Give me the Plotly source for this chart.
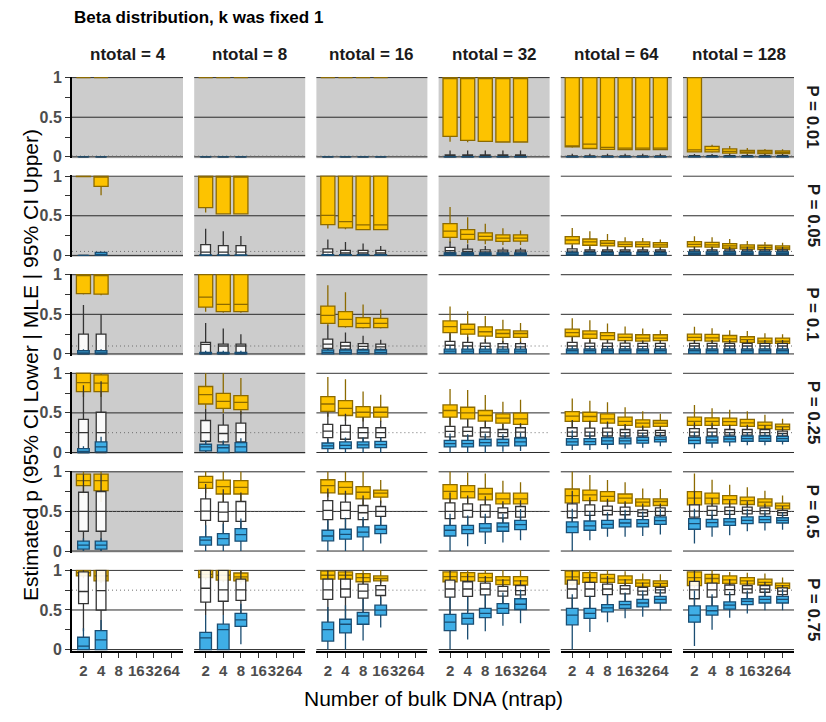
import plotly.graph_objects as go

# Facet levels
P_VALUES = [0.01, 0.05, 0.1, 0.25, 0.5, 0.75]
P_LABELS = ["P = 0.01", "P = 0.05", "P = 0.1", "P = 0.25", "P = 0.5", "P = 0.75"]
NTOTAL = [4, 8, 16, 32, 64, 128]
NTRAP_LABELS = ["2", "4", "8", "16", "32", "64"]

# Panels drawn with a grey background, keyed by P
SHADED_NTOTAL = {
    0.01: [4, 8, 16, 32, 64, 128],
    0.05: [4, 8, 16, 32],
    0.1: [4, 8, 16],
    0.25: [4, 8],
    0.5: [4],
    0.75: [],
}

# Box statistics per ntrap: (lower whisker, q1, median, q3, upper whisker)
# ---- P = 0.01 ----
UPPER_P001 = {
    4: [(1, 1, 1, 1, 1), (1, 1, 1, 1, 1)],
    8: [(1, 1, 1, 1, 1)] * 3,
    16: [(1, 1, 1, 1, 1)] * 4,
    32: [(0.19, 0.257, 1, 1, 1), (0.185, 0.207, 1, 1, 1), (0.19, 0.195, 1, 1, 1),
         (0.185, 0.187, 1, 1, 1), (0.185, 0.187, 1, 1, 1)],
    64: [(0.115, 0.125, 0.13, 1, 1), (0.1, 0.105, 0.16, 1, 1), (0.09, 0.095, 0.12, 1, 1),
         (0.085, 0.09, 0.11, 1, 1), (0.085, 0.09, 0.11, 1, 1), (0.085, 0.09, 0.11, 1, 1)],
    128: [(0.055, 0.062, 0.087, 1, 1), (0.05, 0.062, 0.09, 0.133, 0.153),
          (0.035, 0.046, 0.07, 0.1, 0.137), (0.035, 0.046, 0.06, 0.08, 0.11),
          (0.03, 0.04, 0.06, 0.08, 0.1), (0.03, 0.04, 0.055, 0.075, 0.095)],
}
MLE_P001 = {
    4: [(0, 0, 0, 0, 0)] * 2,
    8: [(0, 0, 0, 0, 0)] * 3,
    16: [(0, 0, 0, 0, 0)] * 4,
    32: [(0, 0, 0.01, 0.025, 0.08)] * 5,
    64: [(0, 0, 0.005, 0.012, 0.04)] * 6,
    128: [(0, 0.002, 0.008, 0.015, 0.035)] * 6,
}
LOWER_P001 = {
    4: [(0, 0, 0, 0, 0)] * 2,
    8: [(0, 0, 0, 0, 0)] * 3,
    16: [(0, 0, 0, 0, 0)] * 4,
    32: [(0, 0, 0, 0.002, 0.005)] * 5,
    64: [(0, 0, 0, 0.003, 0.008)] * 6,
    128: [(0, 0, 0, 0.004, 0.01)] * 6,
}

# ---- P = 0.05 ----
UPPER_P005 = {
    4: [(0.99, 0.995, 1, 1, 1), (0.76, 0.872, 1, 1, 1)],
    8: [(0.54, 0.603, 1, 1, 1), (0.52, 0.525, 1, 1, 1), (0.52, 0.525, 1, 1, 1)],
    16: [(0.339, 0.388, 0.504, 1, 1), (0.33, 0.347, 0.426, 1, 1),
         (0.32, 0.326, 0.384, 1, 1), (0.32, 0.326, 0.384, 1, 1)],
    32: [(0.16, 0.227, 0.306, 0.40, 0.61), (0.15, 0.202, 0.264, 0.326, 0.48),
         (0.14, 0.194, 0.24, 0.285, 0.40), (0.13, 0.178, 0.219, 0.26, 0.343),
         (0.13, 0.18, 0.219, 0.26, 0.314)],
    64: [(0.095, 0.145, 0.194, 0.236, 0.347), (0.085, 0.128, 0.17, 0.207, 0.306),
         (0.08, 0.12, 0.153, 0.186, 0.27), (0.075, 0.11, 0.14, 0.17, 0.23),
         (0.072, 0.107, 0.14, 0.17, 0.22), (0.07, 0.103, 0.132, 0.16, 0.2)],
    128: [(0.07, 0.107, 0.14, 0.174, 0.24), (0.065, 0.103, 0.132, 0.165, 0.23),
          (0.058, 0.09, 0.12, 0.149, 0.207), (0.05, 0.078, 0.105, 0.132, 0.18),
          (0.048, 0.074, 0.1, 0.128, 0.17), (0.048, 0.074, 0.095, 0.12, 0.16)],
}
MLE_P005 = {
    4: [(0, 0, 0, 0, 0), (0, 0, 0, 0.02, 0.04)],
    8: [(0, 0, 0.04, 0.136, 0.335), (0, 0, 0.04, 0.124, 0.306), (0, 0, 0.04, 0.124, 0.244)],
    16: [(0, 0, 0.04, 0.083, 0.2), (0, 0, 0.03, 0.062, 0.17),
         (0, 0, 0.03, 0.062, 0.149), (0, 0, 0.03, 0.062, 0.12)],
    32: [(0, 0.037, 0.06, 0.1, 0.174), (0, 0.03, 0.05, 0.078, 0.14),
         (0, 0.025, 0.045, 0.07, 0.12), (0, 0.02, 0.045, 0.066, 0.1),
         (0, 0.02, 0.045, 0.066, 0.095)],
    64: [(0.005, 0.03, 0.055, 0.083, 0.128), (0.005, 0.03, 0.05, 0.07, 0.11),
         (0.005, 0.03, 0.05, 0.07, 0.107), (0.008, 0.03, 0.05, 0.07, 0.105),
         (0.008, 0.03, 0.05, 0.07, 0.105), (0.01, 0.03, 0.05, 0.07, 0.1)],
    128: [(0.01, 0.03, 0.05, 0.07, 0.11)] * 6,
}
LOWER_P005 = {
    4: [(0, 0, 0, 0, 0), (0, 0, 0.01, 0.037, 0.05)],
    8: [(0, 0, 0, 0.005, 0.01)] * 3,
    16: [(0, 0, 0, 0.008, 0.02)] * 4,
    32: [(0, 0, 0.01, 0.03, 0.05)] * 5,
    64: [(0, 0.005, 0.02, 0.037, 0.06)] * 6,
    128: [(0, 0.01, 0.025, 0.045, 0.07)] * 6,
}

# ---- P = 0.1 ----
UPPER_P01 = {
    4: [(0.75, 0.762, 1, 1, 1), (0.74, 0.754, 1, 1, 1)],
    8: [(0.533, 0.592, 0.717, 1, 1), (0.52, 0.533, 0.625, 1, 1), (0.52, 0.533, 0.625, 1, 1)],
    16: [(0.354, 0.387, 0.487, 0.604, 0.867), (0.33, 0.346, 0.437, 0.533, 0.78),
         (0.32, 0.333, 0.387, 0.458, 0.625), (0.32, 0.333, 0.387, 0.45, 0.56)],
    32: [(0.167, 0.27, 0.346, 0.417, 0.6), (0.16, 0.25, 0.31, 0.375, 0.54),
         (0.15, 0.225, 0.28, 0.342, 0.48), (0.14, 0.208, 0.258, 0.304, 0.433),
         (0.14, 0.208, 0.258, 0.29, 0.39)],
    64: [(0.167, 0.22, 0.27, 0.312, 0.45), (0.14, 0.196, 0.25, 0.29, 0.425),
         (0.13, 0.18, 0.23, 0.27, 0.383), (0.12, 0.167, 0.208, 0.25, 0.346),
         (0.12, 0.162, 0.2, 0.242, 0.32), (0.125, 0.167, 0.2, 0.242, 0.3)],
    128: [(0.133, 0.167, 0.208, 0.25, 0.342), (0.12, 0.162, 0.204, 0.246, 0.325),
          (0.115, 0.154, 0.19, 0.233, 0.3), (0.11, 0.146, 0.18, 0.217, 0.29),
          (0.1, 0.133, 0.163, 0.2, 0.26), (0.1, 0.133, 0.16, 0.2, 0.25)],
}
MLE_P01 = {
    4: [(0, 0, 0.01, 0.25, 0.617), (0, 0, 0.01, 0.25, 0.5)],
    8: [(0, 0, 0.12, 0.146, 0.39), (0, 0, 0.1, 0.125, 0.32), (0, 0, 0.1, 0.125, 0.25)],
    16: [(0, 0.07, 0.125, 0.187, 0.36), (0, 0.062, 0.1, 0.146, 0.27),
         (0, 0.058, 0.095, 0.13, 0.23), (0, 0.058, 0.09, 0.125, 0.18)],
    32: [(0, 0.05, 0.11, 0.158, 0.26), (0, 0.054, 0.1, 0.146, 0.217),
         (0, 0.054, 0.095, 0.137, 0.19), (0.01, 0.054, 0.09, 0.13, 0.167),
         (0.01, 0.054, 0.09, 0.13, 0.154)],
    64: [(0.01, 0.062, 0.1, 0.146, 0.21), (0.02, 0.062, 0.095, 0.137, 0.18),
         (0.02, 0.062, 0.095, 0.137, 0.175), (0.02, 0.062, 0.095, 0.137, 0.175),
         (0.02, 0.062, 0.095, 0.133, 0.17), (0.02, 0.062, 0.095, 0.133, 0.17)],
    128: [(0.02, 0.062, 0.1, 0.133, 0.175)] * 6,
}
LOWER_P01 = {
    4: [(0, 0, 0.01, 0.04, 0.06)] * 2,
    8: [(0, 0, 0.005, 0.02, 0.04)] * 3,
    16: [(0, 0, 0.02, 0.05, 0.07)] * 4,
    32: [(0, 0.008, 0.035, 0.062, 0.104)] * 5,
    64: [(0, 0.008, 0.04, 0.062, 0.1)] * 6,
    128: [(0, 0.008, 0.04, 0.062, 0.1)] * 6,
}

# ---- P = 0.25 ----
UPPER_P025 = {
    4: [(0.7, 0.767, 0.883, 1, 1), (0.7, 0.767, 0.875, 0.98, 1)],
    8: [(0.55, 0.612, 0.73, 0.833, 1), (0.5, 0.558, 0.646, 0.746, 1),
        (0.48, 0.542, 0.633, 0.717, 0.94)],
    16: [(0.45, 0.52, 0.612, 0.704, 0.954), (0.4, 0.467, 0.558, 0.654, 0.925),
         (0.39, 0.446, 0.508, 0.58, 0.77), (0.39, 0.446, 0.508, 0.571, 0.73)],
    32: [(0.34, 0.446, 0.53, 0.6, 0.8), (0.32, 0.425, 0.5, 0.571, 0.79),
         (0.3, 0.396, 0.467, 0.53, 0.725), (0.28, 0.37, 0.433, 0.487, 0.64),
         (0.27, 0.354, 0.425, 0.496, 0.667)],
    64: [(0.31, 0.392, 0.458, 0.517, 0.683), (0.3, 0.392, 0.454, 0.508, 0.654),
         (0.29, 0.37, 0.425, 0.487, 0.633), (0.27, 0.342, 0.392, 0.446, 0.57),
         (0.26, 0.32, 0.37, 0.4125, 0.52), (0.27, 0.33, 0.37, 0.404, 0.49)],
    128: [(0.29, 0.342, 0.392, 0.446, 0.6), (0.28, 0.342, 0.392, 0.4375, 0.558),
          (0.28, 0.342, 0.39, 0.433, 0.54), (0.27, 0.33, 0.375, 0.417, 0.52),
          (0.24, 0.3, 0.342, 0.383, 0.475), (0.24, 0.2875, 0.325, 0.358, 0.425)],
}
MLE_P025 = {
    4: [(0, 0, 0.25, 0.417, 0.85), (0, 0, 0.25, 0.508, 0.9)],
    8: [(0, 0.142, 0.25, 0.404, 0.55), (0, 0.133, 0.24, 0.346, 0.49),
        (0, 0.133, 0.25, 0.37, 0.52)],
    16: [(0.05, 0.1875, 0.27, 0.354, 0.508), (0.04, 0.167, 0.258, 0.342, 0.49),
         (0.07, 0.183, 0.25, 0.312, 0.446), (0.08, 0.1875, 0.25, 0.312, 0.4)],
    32: [(0.083, 0.196, 0.267, 0.33, 0.446), (0.09, 0.208, 0.267, 0.32, 0.42),
         (0.09, 0.196, 0.258, 0.3125, 0.4), (0.1, 0.2, 0.25, 0.29, 0.36),
         (0.1, 0.19, 0.258, 0.3125, 0.37)],
    64: [(0.11, 0.204, 0.258, 0.3125, 0.41), (0.11, 0.208, 0.258, 0.308, 0.4),
         (0.12, 0.208, 0.258, 0.308, 0.39), (0.13, 0.208, 0.25, 0.29, 0.36),
         (0.14, 0.208, 0.245, 0.28, 0.34), (0.15, 0.217, 0.25, 0.28, 0.33)],
    128: [(0.13, 0.208, 0.258, 0.3, 0.383), (0.13, 0.208, 0.258, 0.3, 0.38),
          (0.15, 0.22, 0.25, 0.29, 0.35), (0.15, 0.22, 0.25, 0.29, 0.35),
          (0.16, 0.217, 0.25, 0.2875, 0.34), (0.16, 0.208, 0.24, 0.27, 0.32)],
}
LOWER_P025 = {
    4: [(0, 0, 0.01, 0.05, 0.08), (0, 0.008, 0.07, 0.133, 0.2)],
    8: [(0, 0.02, 0.07, 0.104, 0.15), (0, 0, 0.06, 0.096, 0.15), (0, 0.005, 0.07, 0.125, 0.18)],
    16: [(0, 0.05, 0.083, 0.12, 0.17), (0, 0.05, 0.09, 0.133, 0.19),
         (0, 0.058, 0.095, 0.133, 0.19), (0, 0.062, 0.1, 0.14, 0.19)],
    32: [(0, 0.07, 0.1125, 0.154, 0.24), (0, 0.07, 0.1125, 0.154, 0.23),
         (0, 0.083, 0.125, 0.167, 0.24), (0.01, 0.083, 0.125, 0.167, 0.23),
         (0.02, 0.083, 0.133, 0.183, 0.25)],
    64: [(0.03, 0.092, 0.133, 0.175, 0.28), (0.03, 0.1, 0.137, 0.175, 0.26),
         (0.04, 0.104, 0.146, 0.1875, 0.26), (0.05, 0.108, 0.146, 0.183, 0.25),
         (0.06, 0.117, 0.154, 0.19, 0.25), (0.08, 0.133, 0.165, 0.196, 0.245)],
    128: [(0.05, 0.1125, 0.154, 0.19, 0.26), (0.06, 0.12, 0.158, 0.196, 0.26),
          (0.08, 0.133, 0.17, 0.204, 0.255), (0.09, 0.142, 0.175, 0.208, 0.255),
          (0.09, 0.142, 0.175, 0.208, 0.25), (0.1, 0.142, 0.175, 0.204, 0.245)],
}

# ---- P = 0.5 ----
UPPER_P05 = {
    4: [(0.7, 0.825, 0.8875, 0.97, 1), (0.62, 0.7625, 0.8875, 0.97, 1)],
    8: [(0.73, 0.79, 0.867, 0.942, 1), (0.62, 0.72, 0.8125, 0.896, 1),
        (0.62, 0.72, 0.804, 0.8875, 1)],
    16: [(0.68, 0.733, 0.825, 0.9, 1), (0.65, 0.72, 0.804, 0.875, 1),
         (0.56, 0.658, 0.742, 0.8125, 1), (0.6, 0.68, 0.73, 0.77, 0.896)],
    32: [(0.6, 0.658, 0.754, 0.8375, 1), (0.57, 0.67, 0.75, 0.825, 0.99),
         (0.55, 0.646, 0.72, 0.79, 0.98), (0.5, 0.596, 0.658, 0.73, 0.8875),
         (0.5, 0.596, 0.658, 0.73, 0.867)],
    64: [(0.55, 0.608, 0.7, 0.783, 1), (0.55, 0.6375, 0.708, 0.77, 0.96),
         (0.53, 0.629, 0.69, 0.75, 0.896), (0.52, 0.604, 0.667, 0.72, 0.867),
         (0.5, 0.567, 0.617, 0.658, 0.79), (0.5, 0.575, 0.625, 0.658, 0.783)],
    128: [(0.533, 0.583, 0.667, 0.75, 0.98), (0.52, 0.596, 0.667, 0.73, 0.9),
          (0.52, 0.596, 0.65, 0.7, 0.8375), (0.52, 0.5875, 0.6375, 0.68, 0.804),
          (0.5, 0.567, 0.617, 0.658, 0.7625), (0.48, 0.533, 0.571, 0.604, 0.7)],
}
MLE_P05 = {
    4: [(0, 0.25, 0.5, 0.742, 0.97), (0, 0.25, 0.5, 0.75, 0.97)],
    8: [(0.18, 0.3875, 0.504, 0.658, 0.846), (0.12, 0.375, 0.49, 0.617, 0.78),
        (0.15, 0.375, 0.5, 0.625, 0.74)],
    16: [(0.18, 0.396, 0.5125, 0.6375, 0.79), (0.2, 0.408, 0.5125, 0.617, 0.76),
         (0.22, 0.396, 0.483, 0.575, 0.7), (0.3, 0.4375, 0.5, 0.5625, 0.6375)],
    32: [(0.22, 0.408, 0.5, 0.608, 0.74), (0.25, 0.429, 0.5125, 0.596, 0.7),
         (0.28, 0.429, 0.5, 0.583, 0.69), (0.3, 0.417, 0.483, 0.546, 0.63),
         (0.32, 0.429, 0.5, 0.5625, 0.64)],
    64: [(0.23, 0.42, 0.504, 0.596, 0.7625), (0.3, 0.45, 0.5, 0.583, 0.68),
         (0.33, 0.458, 0.5125, 0.567, 0.66), (0.35, 0.458, 0.5, 0.554, 0.63),
         (0.36, 0.4375, 0.483, 0.52, 0.6), (0.38, 0.45, 0.5, 0.546, 0.6)],
    128: [(0.283, 0.429, 0.504, 0.583, 0.7625), (0.33, 0.45, 0.5125, 0.567, 0.67),
          (0.37, 0.4625, 0.51, 0.554, 0.64), (0.38, 0.47, 0.5125, 0.554, 0.63),
          (0.39, 0.47, 0.51, 0.546, 0.6), (0.4, 0.45, 0.483, 0.5125, 0.57)],
}
LOWER_P05 = {
    4: [(0, 0.025, 0.075, 0.125, 0.16), (0, 0.025, 0.075, 0.125, 0.16)],
    8: [(0, 0.075, 0.1375, 0.18, 0.325), (0, 0.075, 0.158, 0.22, 0.346),
        (0, 0.125, 0.208, 0.283, 0.41)],
    16: [(0, 0.129, 0.19, 0.2625, 0.39), (0, 0.15, 0.21, 0.275, 0.42),
         (0, 0.179, 0.24, 0.304, 0.43), (0.096, 0.22, 0.275, 0.325, 0.43)],
    32: [(0, 0.19, 0.2625, 0.325, 0.47), (0.06, 0.22, 0.27, 0.325, 0.45),
         (0.09, 0.242, 0.29, 0.346, 0.47), (0.108, 0.25, 0.304, 0.354, 0.47),
         (0.1375, 0.27, 0.333, 0.3875, 0.53)],
    64: [(0, 0.233, 0.304, 0.367, 0.533), (0.1375, 0.2625, 0.317, 0.379, 0.5),
         (0.18, 0.29, 0.3375, 0.3875, 0.49), (0.18, 0.304, 0.354, 0.4, 0.52),
         (0.19, 0.304, 0.35, 0.396, 0.5), (0.208, 0.3375, 0.383, 0.43, 0.533)],
    128: [(0.096, 0.275, 0.346, 0.408, 0.533), (0.18, 0.304, 0.358, 0.4, 0.51),
          (0.2, 0.325, 0.367, 0.408, 0.52), (0.25, 0.346, 0.3875, 0.43, 0.533),
          (0.26, 0.358, 0.396, 0.4375, 0.51), (0.27, 0.354, 0.3875, 0.42, 0.49)],
}

# ---- P = 0.75 ----
UPPER_P075 = {
    4: [(0.9, 0.93, 0.97, 1, 1), (0.84, 0.868, 0.93, 1, 1)],
    8: [(0.88, 0.91, 0.95, 1, 1), (0.85, 0.877, 0.938, 1, 1), (0.83, 0.868, 0.918, 0.967, 1)],
    16: [(0.86, 0.889, 0.938, 0.99, 1), (0.86, 0.889, 0.938, 0.98, 1),
         (0.82, 0.856, 0.909, 0.959, 1), (0.84, 0.868, 0.897, 0.93, 1)],
    32: [(0.827, 0.856, 0.922, 0.98, 1), (0.83, 0.868, 0.922, 0.971, 1),
         (0.82, 0.86, 0.909, 0.963, 1), (0.77, 0.819, 0.877, 0.922, 1),
         (0.76, 0.815, 0.868, 0.922, 1)],
    64: [(0.807, 0.827, 0.918, 0.99, 1), (0.8, 0.848, 0.909, 0.971, 1),
         (0.8, 0.848, 0.897, 0.95, 1), (0.78, 0.835, 0.88, 0.93, 0.99),
         (0.76, 0.798, 0.84, 0.88, 0.96), (0.76, 0.798, 0.835, 0.868, 0.95)],
    128: [(0.774, 0.807, 0.909, 0.98, 1), (0.79, 0.835, 0.897, 0.95, 1),
          (0.79, 0.835, 0.88, 0.93, 0.98), (0.78, 0.827, 0.868, 0.909, 0.97),
          (0.77, 0.815, 0.848, 0.889, 0.96), (0.74, 0.774, 0.807, 0.84, 0.909)],
}
MLE_P075 = {
    4: [(0.23, 0.58, 0.733, 0.98, 1), (0.24, 0.5, 0.745, 1, 1)],
    8: [(0.436, 0.6, 0.774, 1, 1), (0.436, 0.61, 0.753, 1, 1), (0.354, 0.621, 0.753, 0.889, 1)],
    16: [(0.346, 0.634, 0.753, 0.889, 1), (0.37, 0.663, 0.765, 0.889, 1),
         (0.47, 0.65, 0.737, 0.827, 0.96), (0.56, 0.683, 0.753, 0.807, 0.889)],
    32: [(0.436, 0.663, 0.765, 0.877, 1), (0.47, 0.671, 0.765, 0.856, 0.96),
         (0.5, 0.691, 0.765, 0.84, 0.93), (0.56, 0.675, 0.737, 0.798, 0.889),
         (0.58, 0.691, 0.745, 0.807, 0.877)],
    64: [(0.416, 0.65, 0.765, 0.877, 1), (0.47, 0.671, 0.765, 0.848, 0.96),
         (0.54, 0.695, 0.765, 0.827, 0.93), (0.58, 0.704, 0.765, 0.807, 0.889),
         (0.6, 0.691, 0.737, 0.786, 0.848), (0.64, 0.716, 0.753, 0.786, 0.827)],
    128: [(0.34, 0.642, 0.753, 0.86, 1), (0.436, 0.663, 0.753, 0.84, 0.955),
          (0.54, 0.695, 0.757, 0.815, 0.889), (0.6, 0.716, 0.765, 0.807, 0.868),
          (0.62, 0.724, 0.765, 0.807, 0.856), (0.64, 0.695, 0.737, 0.778, 0.815)],
}
LOWER_P075 = {
    4: [(0, 0, 0.045, 0.156, 0.27), (0, 0, 0.123, 0.24, 0.375)],
    8: [(0, 0, 0.148, 0.218, 0.436), (0, 0, 0.251, 0.321, 0.436),
        (0.066, 0.292, 0.374, 0.457, 0.58)],
    16: [(0, 0.107, 0.251, 0.346, 0.539), (0, 0.21, 0.32, 0.383, 0.56),
         (0.115, 0.32, 0.424, 0.469, 0.64), (0.28, 0.436, 0.498, 0.56, 0.66)],
    32: [(0, 0.239, 0.346, 0.444, 0.663), (0.128, 0.321, 0.395, 0.457, 0.663),
         (0.23, 0.403, 0.457, 0.519, 0.7), (0.3, 0.457, 0.519, 0.58, 0.72),
         (0.333, 0.506, 0.572, 0.642, 0.76)],
    64: [(0, 0.313, 0.436, 0.519, 0.7), (0.222, 0.395, 0.457, 0.519, 0.68),
         (0.346, 0.477, 0.527, 0.568, 0.7), (0.395, 0.519, 0.568, 0.609, 0.72),
         (0.416, 0.539, 0.588, 0.634, 0.745), (0.498, 0.588, 0.634, 0.671, 0.765)],
    128: [(0.045, 0.346, 0.436, 0.551, 0.745), (0.251, 0.436, 0.49, 0.551, 0.7),
          (0.403, 0.51, 0.56, 0.601, 0.73), (0.457, 0.568, 0.609, 0.642, 0.745),
          (0.498, 0.588, 0.634, 0.671, 0.765), (0.498, 0.588, 0.634, 0.671, 0.765)],
}

UPPER = {0.01: UPPER_P001, 0.05: UPPER_P005, 0.1: UPPER_P01,
         0.25: UPPER_P025, 0.5: UPPER_P05, 0.75: UPPER_P075}
MLE = {0.01: MLE_P001, 0.05: MLE_P005, 0.1: MLE_P01,
       0.25: MLE_P025, 0.5: MLE_P05, 0.75: MLE_P075}
LOWER = {0.01: LOWER_P001, 0.05: LOWER_P005, 0.1: LOWER_P01,
         0.25: LOWER_P025, 0.5: LOWER_P05, 0.75: LOWER_P075}

# ---------------------------------------------------------------- styling
W, H = 826, 722
PANEL_LEFT, PANEL_STEP_X, PANEL_W = 72.0, 122.2, 111.0
PANEL_TOP, PANEL_STEP_Y, UNIT_H = 72.0, 100.5, 80.8   # pixel row of y = 1, row step, px per unit
Y_RANGE = [-0.02, 1.012]
X_RANGE = [0.35, 6.65]

BOLD_FONT = "Liberation Sans Narrow, Arial Narrow, Liberation Sans, Arial, sans-serif"
PLAIN_FONT = "Liberation Sans, Arial, sans-serif"
X_TICK_FONT = dict(family=BOLD_FONT, size=15, color="#4D4D4D", weight="bold")
Y_TICK_FONT = dict(family=BOLD_FONT, size=16, color="#4D4D4D", weight="bold")

STYLES = [
    # (data, box width, fill, outline)
    (UPPER, 0.8, "#FDC300", "#8C6A00"),
    (MLE, 0.55, "rgba(255,255,255,0.9)", "#333333"),
    (LOWER, 0.66, "#3FAEE6", "#1A4D72"),
]

fig = go.Figure()
shapes = []
layout = {}

for r, p in enumerate(P_VALUES):
    one_px = PANEL_TOP + r * PANEL_STEP_Y
    top_px = one_px - (Y_RANGE[1] - 1) * UNIT_H
    bot_px = one_px + (0 - Y_RANGE[0]) * UNIT_H + UNIT_H
    ydom = [1 - bot_px / H, 1 - top_px / H]
    for c, nt in enumerate(NTOTAL):
        idx = r * 6 + c + 1
        sfx = "" if idx == 1 else str(idx)
        xref, yref = "x" + sfx, "y" + sfx
        x0 = PANEL_LEFT + c * PANEL_STEP_X
        xdom = [x0 / W, (x0 + PANEL_W) / W]
        bottom_row = r == len(P_VALUES) - 1
        left_col = c == 0

        layout["xaxis" + sfx] = dict(
            domain=xdom, anchor=yref, range=X_RANGE, showgrid=False, zeroline=False,
            tickmode="array", tickvals=[1, 2, 3, 4, 5, 6], ticktext=NTRAP_LABELS,
            showticklabels=bottom_row, ticks="outside" if bottom_row else "",
            ticklen=5, tickwidth=1.2, tickcolor="#333333", tickangle=0,
            showline=bottom_row, linecolor="black", linewidth=2,
            tickfont=X_TICK_FONT, fixedrange=True,
        )
        layout["yaxis" + sfx] = dict(
            domain=ydom, anchor=xref, range=Y_RANGE, showgrid=False, zeroline=False,
            tickmode="array", tickvals=[0, 0.5, 1], ticktext=["0", "0.5", "1"],
            showticklabels=left_col, ticks="outside" if left_col else "",
            ticklen=5, tickwidth=1.2, tickcolor="#333333",
            minor=dict(tickvals=[0.25, 0.75], ticks="outside" if left_col else "",
                       ticklen=5, tickwidth=1.2, tickcolor="#333333", showgrid=False),
            showline=left_col, linecolor="black", linewidth=2,
            tickfont=Y_TICK_FONT, fixedrange=True,
        )

        # panel background
        if nt in SHADED_NTOTAL[p]:
            shapes.append(dict(type="rect", xref=xref + " domain", yref=yref,
                               x0=0, x1=1, y0=Y_RANGE[0], y1=1, fillcolor="#CCCCCC",
                               line=dict(width=0), layer="below"))
        # reference lines at 0, 0.5, 1
        for yv in (0, 0.5, 1):
            shapes.append(dict(type="line", xref=xref + " domain", yref=yref,
                               x0=0, x1=1, y0=yv, y1=yv,
                               line=dict(color="#2A2A2A", width=1), layer="below"))
        # true P
        shapes.append(dict(type="line", xref=xref + " domain", yref=yref,
                           x0=0, x1=1, y0=p, y1=p,
                           line=dict(color="#6E6E6E", width=1, dash="1px,3px"), layer="below"))

        for data, bw, fill, edge in STYLES:
            stats = data[p][nt]
            pos = list(range(1, len(stats) + 1))
            fig.add_trace(go.Box(
                x=pos,
                lowerfence=[s[0] for s in stats],
                q1=[s[1] for s in stats],
                median=[s[2] for s in stats],
                q3=[s[3] for s in stats],
                upperfence=[s[4] for s in stats],
                xaxis=xref, yaxis=yref, width=bw, whiskerwidth=0,
                fillcolor=fill, line=dict(color=edge, width=1.3),
                boxpoints=False, hoverinfo="skip", showlegend=False,
            ))

annotations = []
# title
annotations.append(dict(text="<b>Beta distribution, k was fixed 1</b>", x=72 / W, y=1 - 11 / H,
                        xref="paper", yref="paper", xanchor="left", yanchor="middle",
                        showarrow=False, font=dict(family=BOLD_FONT, size=17, color="black")))
# column strips
for c, nt in enumerate(NTOTAL):
    cx = (PANEL_LEFT + c * PANEL_STEP_X + PANEL_W / 2) / W
    annotations.append(dict(text=f"<b>ntotal = {nt}</b>", x=cx, y=1 - 48 / H,
                            xref="paper", yref="paper", xanchor="center", yanchor="middle",
                            showarrow=False, font=dict(family=BOLD_FONT, size=17, color="#1A1A1A")))
# row strips
for r, lab in enumerate(P_LABELS):
    cy = 1 - (PANEL_TOP + r * PANEL_STEP_Y + UNIT_H / 2) / H
    annotations.append(dict(text=f"<b>{lab}</b>", x=813 / W, y=cy, textangle=90,
                            xref="paper", yref="paper", xanchor="center", yanchor="middle",
                            showarrow=False, font=dict(family=BOLD_FONT, size=17, color="#1A1A1A")))
# axis titles
annotations.append(dict(text="Number of bulk DNA (ntrap)", x=433 / W, y=1 - 705 / H,
                        xref="paper", yref="paper", xanchor="center", yanchor="middle",
                        showarrow=False, font=dict(family=PLAIN_FONT, size=21, color="black")))
annotations.append(dict(text="Estimated p (95% CI Lower | MLE | 95% CI Upper)", x=31 / W,
                        y=1 - 365 / H, textangle=-90,
                        xref="paper", yref="paper", xanchor="center", yanchor="middle",
                        showarrow=False, font=dict(family=PLAIN_FONT, size=21, color="black")))

fig.update_layout(
    width=W, height=H, autosize=False,
    margin=dict(l=0, r=0, t=0, b=0),
    paper_bgcolor="white", plot_bgcolor="white",
    boxmode="overlay", showlegend=False,
    shapes=shapes, annotations=annotations,
    **layout,
)

fig.write_html("out.html")
